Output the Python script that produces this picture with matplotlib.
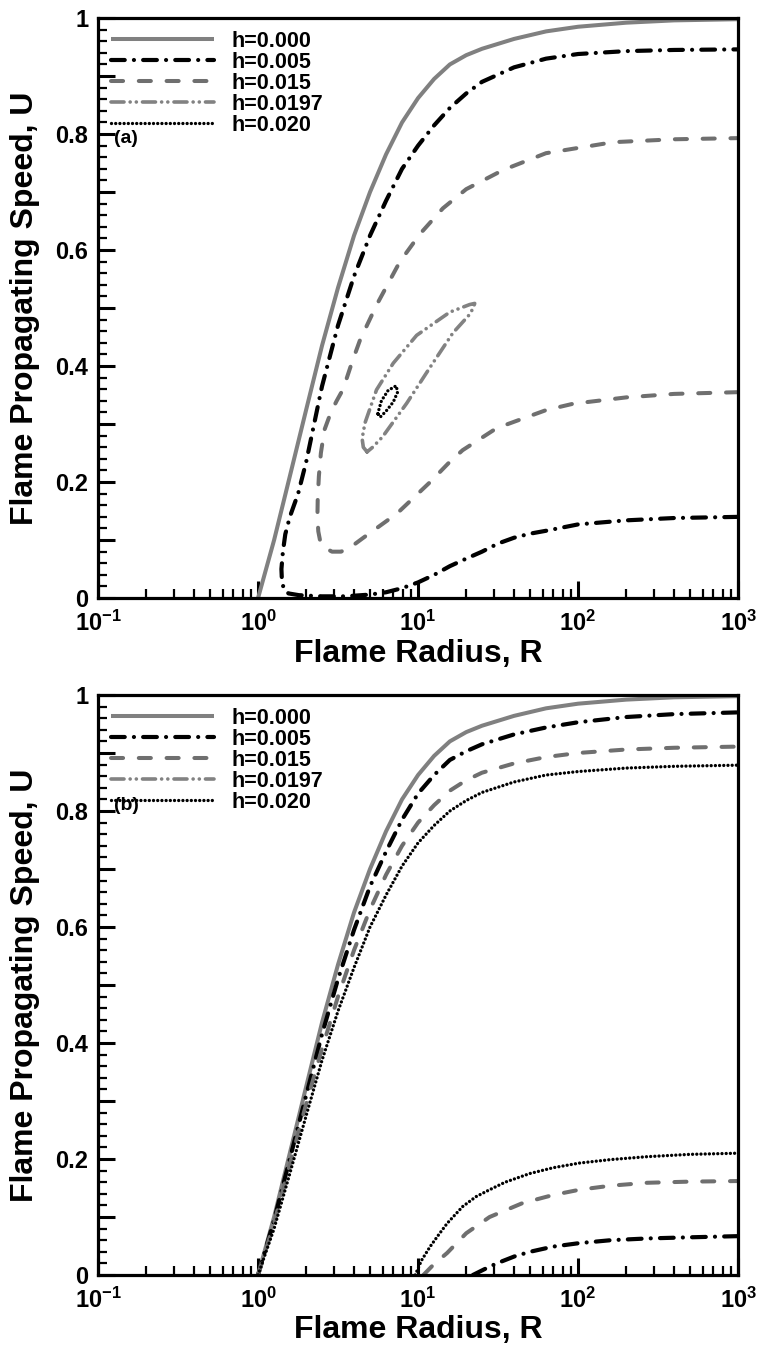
import matplotlib
matplotlib.use("Agg")
import math
import matplotlib.pyplot as plt
from matplotlib.ticker import FixedLocator, FuncFormatter, LogLocator, NullFormatter

plt.rcParams['font.family'] = ['Liberation Sans', 'DejaVu Sans']
plt.rcParams['font.weight'] = 'bold'
plt.rcParams['mathtext.fontset'] = 'custom'
plt.rcParams['mathtext.rm'] = 'Liberation Sans:bold'
plt.rcParams['mathtext.bf'] = 'Liberation Sans:bold'
plt.rcParams['mathtext.it'] = 'Liberation Sans:bold'

labels = ['h=0.000', 'h=0.005', 'h=0.015', 'h=0.0197', 'h=0.020']

# ---------------- panel (a) ----------------
a_h000_R = [1.0, 1.26, 1.58, 2.0, 2.51, 3.16, 3.98, 5.01, 6.31, 7.94, 10, 12.6, 15.8, 20, 25.1, 39.8, 63.1, 100, 200, 398, 1000]
a_h000_U = [0.0, 0.10, 0.21, 0.325, 0.435, 0.535, 0.625, 0.70, 0.765, 0.82, 0.862, 0.895, 0.92, 0.936, 0.947, 0.964, 0.977, 0.985, 0.992, 0.996, 0.998]

a_h005_R = [1000, 398, 200, 100, 63, 50, 39.8, 31.6, 25.1, 20, 15.8, 12.6, 10, 7.94, 6.31, 5.0, 3.5, 2.5, 1.8, 1.55, 1.45, 1.41,
            1.40, 1.43, 1.48, 1.58, 1.78, 2.0, 2.51, 3.16, 3.98, 5.01, 6.31, 7.94, 10, 12.6, 15.8, 20, 25.1, 39.8, 63.1, 100, 200, 398, 1000]
a_h005_U = [0.140, 0.138, 0.134, 0.127, 0.116, 0.111, 0.104, 0.094, 0.080, 0.068, 0.055, 0.040, 0.027, 0.017, 0.010, 0.006, 0.003, 0.003, 0.005, 0.008, 0.015, 0.03,
            0.05, 0.08, 0.11, 0.14, 0.18, 0.235, 0.365, 0.47, 0.555, 0.625, 0.685, 0.74, 0.78, 0.815, 0.845, 0.87, 0.89, 0.915, 0.93, 0.938, 0.943, 0.945, 0.946]

a_h015_R = [1000, 398, 200, 93, 63, 31, 19, 15.8, 11.9, 7.4, 4.5, 3.8, 3.3, 2.9, 2.6, 2.45, 2.38, 2.35, 2.36, 2.4, 2.47, 2.6, 2.85, 3.1, 3.4,
            3.87, 4.34, 5.5, 7.7, 10.3, 14.3, 20, 34, 63, 166, 398, 1000]
a_h015_U = [0.355, 0.352, 0.346, 0.335, 0.324, 0.293, 0.255, 0.235, 0.200, 0.146, 0.103, 0.088, 0.080, 0.080, 0.087, 0.097, 0.115, 0.14, 0.17, 0.21, 0.25, 0.29, 0.32, 0.34, 0.36,
            0.407, 0.445, 0.505, 0.58, 0.628, 0.672, 0.705, 0.738, 0.767, 0.786, 0.791, 0.793]

a_h0197_R = [4.8, 4.55, 4.47, 4.66, 5.5, 7.0, 9.8, 15.8, 21.0, 22.6, 22.1, 21, 16.5, 11.9, 8.5, 6.0, 5.2, 4.8]
a_h0197_U = [0.252, 0.260, 0.275, 0.302, 0.359, 0.405, 0.453, 0.493, 0.506, 0.508, 0.500, 0.489, 0.457, 0.398, 0.336, 0.278, 0.260, 0.252]

a_h020_R = [5.6, 5.9, 6.5, 7.3, 7.45, 7.0, 6.3, 5.8, 5.6]
a_h020_U = [0.318, 0.34, 0.358, 0.366, 0.355, 0.338, 0.322, 0.312, 0.318]

# ---------------- panel (b) ----------------
b_h000_R = a_h000_R
b_h000_U = a_h000_U

b_h005_up_R = [1.0, 1.26, 1.58, 2.0, 2.51, 3.16, 3.98, 5.01, 6.31, 7.94, 10, 12.6, 15.8, 20, 25.1, 39.8, 63.1, 100, 200, 398, 1000]
b_h005_up_U = [0.0, 0.095, 0.20, 0.31, 0.415, 0.51, 0.595, 0.67, 0.73, 0.785, 0.83, 0.862, 0.888, 0.903, 0.915, 0.932, 0.944, 0.953, 0.962, 0.967, 0.970]
b_h005_lo_R = [22, 26, 31, 40, 50, 70, 102, 160, 270, 500, 1000]
b_h005_lo_U = [0.0, 0.01, 0.02, 0.032, 0.04, 0.049, 0.055, 0.06, 0.063, 0.065, 0.067]

b_h015_up_R = [1.0, 1.26, 1.58, 2.0, 2.51, 3.16, 3.98, 5.01, 6.31, 7.94, 10, 12.6, 15.8, 20, 25.1, 39.8, 63.1, 100, 200, 398, 1000]
b_h015_up_U = [0.0, 0.09, 0.19, 0.295, 0.39, 0.48, 0.56, 0.63, 0.69, 0.74, 0.78, 0.81, 0.835, 0.853, 0.866, 0.882, 0.893, 0.90, 0.906, 0.909, 0.911]
b_h015_lo_R = [10.8, 12.5, 15.2, 20, 28, 45, 70, 102, 160, 270, 500, 1000]
b_h015_lo_U = [0.0, 0.018, 0.038, 0.072, 0.10, 0.124, 0.138, 0.147, 0.154, 0.159, 0.161, 0.162]

b_h020_up_R = [1.0, 1.26, 1.58, 2.0, 2.51, 3.16, 3.98, 5.01, 6.31, 7.94, 10, 12.6, 15.8, 20, 25.1, 39.8, 63.1, 100, 200, 398, 1000]
b_h020_up_U = [0.0, 0.08, 0.175, 0.275, 0.37, 0.455, 0.53, 0.60, 0.655, 0.705, 0.745, 0.775, 0.80, 0.818, 0.832, 0.85, 0.862, 0.868, 0.874, 0.877, 0.879]
b_h020_lo_R = [9.6, 10.5, 11.9, 13.5, 15.2, 19, 23, 28, 35, 50, 70, 102, 160, 270, 500, 1000]
b_h020_lo_U = [0.0, 0.025, 0.049, 0.07, 0.089, 0.118, 0.135, 0.147, 0.16, 0.175, 0.185, 0.193, 0.199, 0.204, 0.208, 0.210]

x_ticks = [0.1, 1, 10, 100, 1000]
y_ticks = [0, 0.2, 0.4, 0.6, 0.8, 1.0]

# ---------------- styles ----------------
st = {
    'h000': dict(color='#808080', lw=2.9, ls='-', solid_capstyle='butt'),
    'h005': dict(color='black', lw=3.0, ls=(0, (3.3, 2.2, 0.01, 2.2)), dash_capstyle='round'),
    'h015': dict(color='#6f6f6f', lw=2.9, ls=(0, (3.0, 3.9)), dash_capstyle='round'),
    'h0197': dict(color='#828282', lw=2.6, ls=(0, (3.6, 1.7, 0.01, 1.7, 0.01, 1.7)), dash_capstyle='round'),
    'h020': dict(color='black', lw=2.4, ls=(0, (0.01, 1.25)), dash_capstyle='round'),
}

fig = plt.figure(figsize=(7.57, 13.47), dpi=100)
ax_a = fig.add_axes([0.1295, 0.5560, 0.8455, 0.4306])
ax_b = fig.add_axes([0.1295, 0.05345, 0.8455, 0.4306])

def yfmt(v, pos):
    for t in y_ticks:
        if abs(v - t) < 1e-9:
            if abs(t - round(t)) < 1e-9:
                return '%d' % round(t)
            return '%.1f' % t
    return ''

def xfmt(v, pos):
    e = int(round(math.log10(v)))
    return r'$\mathbf{10^{%d}}$' % e

def style_axes(ax, tag, tagy):
    ax.set_xscale('log')
    ax.set_xlim(0.1, 1000)
    ax.set_ylim(0, 1)
    ax.xaxis.set_major_locator(FixedLocator(x_ticks))
    ax.xaxis.set_minor_locator(LogLocator(base=10, subs=range(2, 10), numticks=20))
    ax.xaxis.set_major_formatter(FuncFormatter(xfmt))
    ax.xaxis.set_minor_formatter(NullFormatter())
    ax.yaxis.set_major_locator(FixedLocator([i * 0.1 for i in range(11)]))
    ax.yaxis.set_minor_locator(FixedLocator([i * 0.02 for i in range(51)]))
    ax.yaxis.set_major_formatter(FuncFormatter(yfmt))
    ax.tick_params(axis='both', which='major', direction='in', length=12, width=2.2, labelsize=17,
                   top=False, right=False)
    ax.tick_params(axis='x', which='major', pad=9)
    ax.tick_params(axis='y', which='major', pad=7)
    ax.tick_params(axis='both', which='minor', direction='in', length=6.5, width=1.6,
                   top=False, right=False)
    for s in ax.spines.values():
        s.set_linewidth(2.3)
    ax.set_xlabel('Flame Radius, R', fontsize=23, fontweight='bold', labelpad=2)
    ax.set_ylabel('Flame Propagating Speed, U', fontsize=23, fontweight='bold', labelpad=11)
    ax.text(0.15, tagy, tag, fontsize=14, fontweight='bold', ha='center', va='center')

# panel a
ax_a.plot(a_h000_R, a_h000_U, label=labels[0], **st['h000'])
ax_a.plot(a_h005_R, a_h005_U, label=labels[1], **st['h005'])
ax_a.plot(a_h015_R, a_h015_U, label=labels[2], **st['h015'])
ax_a.plot(a_h0197_R, a_h0197_U, label=labels[3], **st['h0197'])
ax_a.plot(a_h020_R, a_h020_U, label=labels[4], **st['h020'])
style_axes(ax_a, '(a)', 0.792)

# panel b
ax_b.plot(b_h000_R, b_h000_U, label=labels[0], **st['h000'])
ax_b.plot(b_h005_up_R, b_h005_up_U, label=labels[1], **st['h005'])
ax_b.plot(b_h005_lo_R, b_h005_lo_U, **st['h005'])
ax_b.plot(b_h015_up_R, b_h015_up_U, label=labels[2], **st['h015'])
ax_b.plot(b_h015_lo_R, b_h015_lo_U, **st['h015'])
ax_b.plot([], [], label=labels[3], **st['h0197'])
ax_b.plot(b_h020_up_R, b_h020_up_U, label=labels[4], **st['h020'])
ax_b.plot(b_h020_lo_R, b_h020_lo_U, **st['h020'])
style_axes(ax_b, '(b)', 0.81)

for ax in (ax_a, ax_b):
    ax.legend(loc='upper left', frameon=False, handlelength=4.8,
              handletextpad=0.8, labelspacing=0.0, borderaxespad=0.45, borderpad=0.15,
              prop={'weight': 'bold', 'size': 15.5})

fig.savefig('out.png', dpi=100)
